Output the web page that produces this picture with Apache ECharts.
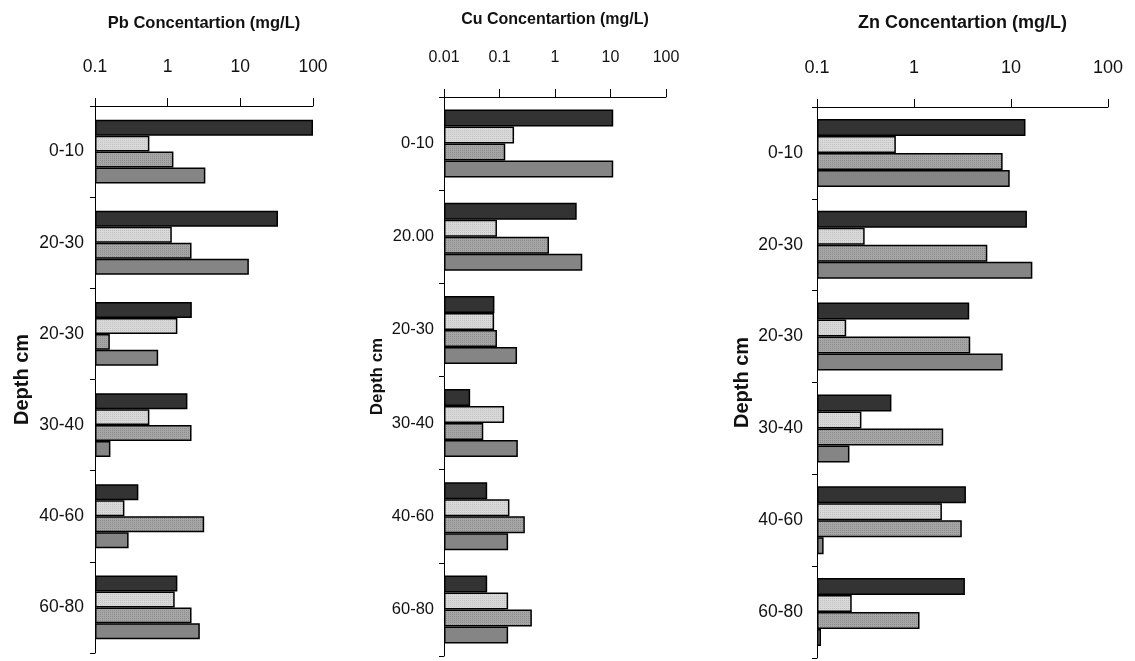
<!DOCTYPE html>
<html>
<head>
<meta charset="utf-8">
<script src="https://cdn.jsdelivr.net/npm/echarts@6/dist/echarts.min.js"></script>
<style>
  html, body { margin: 0; padding: 0; background: #ffffff; }
  #chart { width: 1135px; height: 661px; }
</style>
</head>
<body>
<div id="chart"></div>
<script>
// Depth intervals (top to bottom) for each metal panel
const pbDepths = ['0-10', '20-30', '20-30', '30-40', '40-60', '60-80'];
const cuDepths = ['0-10', '20.00', '20-30', '30-40', '40-60', '60-80'];
const znDepths = ['0-10', '20-30', '20-30', '30-40', '40-60', '60-80'];

// Pb concentrations (mg/L), four samples per depth
const pbS1 = [100, 33, 2.15, 1.87, 0.395, 1.36];
const pbS2 = [0.56, 1.14, 1.36, 0.56, 0.254, 1.25];
const pbS3 = [1.2, 2.13, 0.16, 2.13, 3.18, 2.13];
const pbS4 = [3.3, 13.1, 0.74, 0.163, 0.29, 2.77];

// Cu concentrations (mg/L)
const cuS1 = [11.2, 2.46, 0.081, 0.0296, 0.060, 0.060];
const cuS2 = [0.183, 0.09, 0.08, 0.121, 0.151, 0.143];
const cuS3 = [0.127, 0.78, 0.09, 0.051, 0.286, 0.383];
const cuS4 = [11.2, 3.1, 0.207, 0.214, 0.143, 0.143];

// Zn concentrations (mg/L)
const znS1 = [14.1, 14.6, 3.71, 0.585, 3.43, 3.35];
const znS2 = [0.65, 0.31, 0.2, 0.287, 1.94, 0.228];
const znS3 = [8.2, 5.7, 3.8, 2.0, 3.11, 1.14];
const znS4 = [9.7, 16.6, 8.2, 0.216, 0.117, 0.11];

// Axis tick ranges
const pbRange = [0.1, 100];
const cuRange = [0.01, 100];
const znRange = [0.1, 100];

// Small repeating fills for the textured bars
function dotPattern(bg, dot) {
  const c = document.createElement('canvas');
  c.width = 4; c.height = 4;
  const g = c.getContext('2d');
  g.fillStyle = bg; g.fillRect(0, 0, 4, 4);
  g.fillStyle = dot;
  g.fillRect(0, 0, 1, 1); g.fillRect(2, 2, 1, 1);
  g.fillRect(2, 0, 1, 1); g.fillRect(0, 2, 1, 1);
  return { image: c, repeat: 'repeat' };
}
const fillDark = '#333333';
const fillLight = dotPattern('#d9d9d9', '#c2c2c2');
const fillDotted = dotPattern('#a6a6a6', '#8c8c8c');
const fillMid = '#858585';

const FONT = 'Liberation Sans, Arial, sans-serif';

function fmt(v) { return String(Number(v.toPrecision(6))); }

function panel(idx, cfg) {
  return {
    grid: { left: cfg.left, top: cfg.top, width: cfg.width, height: cfg.height, outerBoundsMode: 'none' },
    xAxis: {
      gridIndex: idx, type: 'log', logBase: 10, position: 'top',
      min: cfg.range[0], max: cfg.range[1], startValue: cfg.range[0],
      name: cfg.title, nameLocation: 'middle', nameGap: cfg.titleGap,
      nameTextStyle: { fontFamily: FONT, fontWeight: 'bold', fontSize: cfg.titleSize, color: '#111' },
      axisLine: { show: true, lineStyle: { color: '#000', width: 1 } },
      axisTick: { show: true, inside: false, length: 8, lineStyle: { color: '#000' } },
      minorTick: { show: false },
      splitLine: { show: false },
      axisLabel: { margin: cfg.tickMargin, fontFamily: FONT, fontSize: cfg.tickSize, color: '#111', formatter: fmt }
    },
    yAxis: {
      gridIndex: idx, type: 'category', inverse: true, data: cfg.cats,
      name: 'Depth cm', nameLocation: 'middle', nameGap: cfg.depthGap, nameRotate: 90,
      nameTextStyle: { fontFamily: FONT, fontWeight: 'bold', fontSize: cfg.depthSize, color: '#111' },
      axisLine: { show: true, lineStyle: { color: '#000', width: 1 } },
      axisTick: { show: true, inside: false, length: 5, alignWithLabel: false, lineStyle: { color: '#000' } },
      splitLine: { show: false },
      axisLabel: { margin: cfg.catMargin, fontFamily: FONT, fontSize: cfg.catSize, color: '#111' }
    },
    series: [cfg.s1, cfg.s2, cfg.s3, cfg.s4].map((data, k) => ({
      type: 'bar', xAxisIndex: idx, yAxisIndex: idx, data: data,
      barGap: '0%', barCategoryGap: cfg.gap,
      itemStyle: { color: [fillDark, fillLight, fillDotted, fillMid][k], borderColor: '#000', borderWidth: 1.5 },
      emphasis: { disabled: true },
      silent: true, animation: false
    }))
  };
}

const panels = [
  panel(0, { left: 95, top: 106, width: 218, height: 547, range: pbRange, cats: pbDepths,
    s1: pbS1, s2: pbS2, s3: pbS3, s4: pbS4, gap: '30%',
    title: 'Pb Concentartion (mg/L)', titleGap: 74, titleSize: 16.5,
    tickMargin: 30, tickSize: 17.5, catMargin: 11, catSize: 17.5, depthGap: 63, depthSize: 20 }),
  panel(1, { left: 444, top: 97, width: 222, height: 559, range: cuRange, cats: cuDepths,
    s1: cuS1, s2: cuS2, s3: cuS3, s4: cuS4, gap: '27%',
    title: 'Cu Concentartion (mg/L)', titleGap: 69, titleSize: 16,
    tickMargin: 31, tickSize: 16, catMargin: 10, catSize: 16.5, depthGap: 58, depthSize: 17 }),
  panel(2, { left: 817, top: 107, width: 291, height: 551, range: znRange, cats: znDepths,
    s1: znS1, s2: znS2, s3: znS3, s4: znS4, gap: '26%',
    title: 'Zn Concentartion (mg/L)', titleGap: 75, titleSize: 18,
    tickMargin: 30, tickSize: 18, catMargin: 14, catSize: 17.5, depthGap: 65, depthSize: 20 })
];

const chart = echarts.init(document.getElementById('chart'), null, { renderer: 'canvas' });
chart.setOption({
  backgroundColor: '#ffffff',
  animation: false,
  grid: panels.map(p => p.grid),
  xAxis: panels.map(p => p.xAxis),
  yAxis: panels.map(p => p.yAxis),
  series: panels.flatMap(p => p.series)
});
</script>
</body>
</html>
